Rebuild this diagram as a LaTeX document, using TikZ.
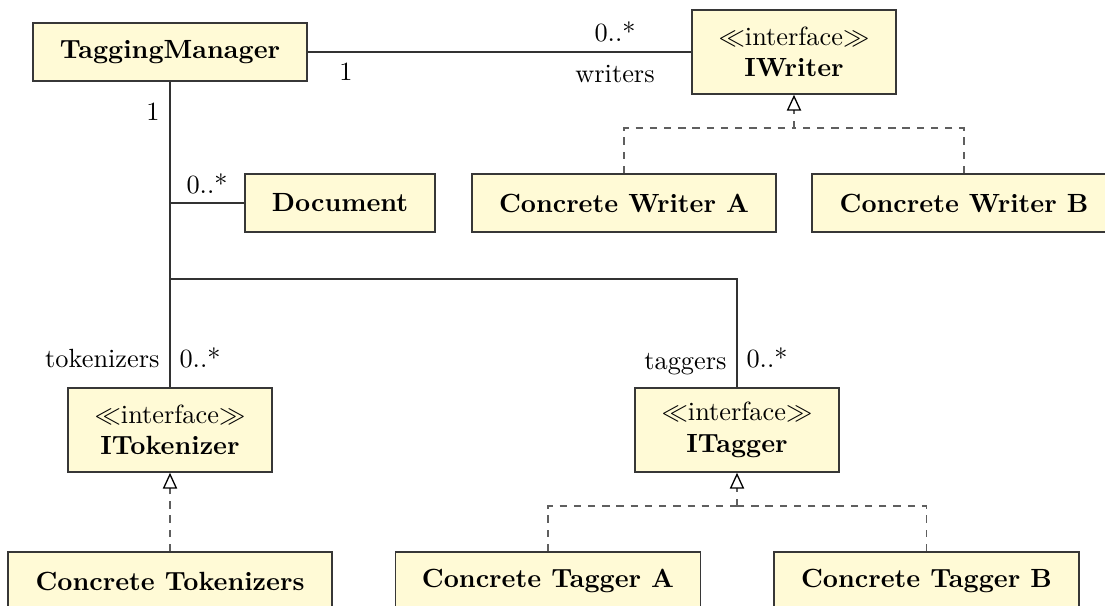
\documentclass[tikz,border=0pt]{standalone}
\usetikzlibrary{arrows.meta}
\definecolor{classfill}{RGB}{255,250,214}
\definecolor{classline}{RGB}{55,55,55}
\definecolor{linkline}{RGB}{50,50,50}
\definecolor{dashline}{RGB}{95,95,95}
\newcommand\pxu{0.38pt}
\begin{document}
\begin{tikzpicture}[x=\pxu, y=-\pxu,
  cls/.style={draw=classline, fill=classfill, line width=0.6pt, inner sep=0pt, align=center},
  box/.style={cls, font=\bfseries, minimum width=#1*\pxu, minimum height=58*\pxu},
  iface/.style={cls, minimum width=#1*\pxu, minimum height=84*\pxu},
  assoc/.style={draw=linkline, line width=0.55pt},
  realize/.style={draw=dashline, line width=0.55pt, dash pattern=on 2.8pt off 2.6pt},
  hollow/.style={-{Triangle[open, length=6pt, width=5.4pt, color=black, fill=white, line width=0.5pt]}},
  lbl/.style={inner sep=0pt}]
\useasboundingbox (0,0) rectangle (1105,606);
\clip (0,0) rectangle (1105,606);

% classes
\node[box=274] (tm) at (170,52) {TaggingManager};
\node[iface=204] (iw) at (794,52) {$\ll$interface$\gg$\\\textbf{IWriter}};
\node[box=190] (doc) at (340,203) {Document};
\node[box=304] (cwa) at (624,203) {Concrete Writer A};
\node[box=304] (cwb) at (964,203) {Concrete Writer B};
\node[iface=204] (itok) at (170,430) {$\ll$interface$\gg$\\\textbf{ITokenizer}};
\node[iface=204] (itag) at (737,430) {$\ll$interface$\gg$\\\textbf{ITagger}};
\node[box=324] (ctok) at (170,581) {Concrete Tokenizers};
\node[box=305] (cta) at (548,581) {Concrete Tagger A};
\node[box=305] (ctb) at (926.5,581) {Concrete Tagger B};

% associations
\draw[assoc] (tm.east) -- (iw.west);
\draw[assoc] (tm.south) -- (itok.north);
\coordinate (docj) at (tm.south |- doc.west);
\draw[assoc] (docj) -- (doc.west);
\coordinate (tagj) at (170,279);
\draw[assoc] (tagj) -| (itag.north);

% realizations
\coordinate (wbus) at (794,128);
\draw[realize] (cwa.north) |- (wbus);
\draw[realize] (cwb.north) |- (wbus);
\draw[realize, hollow] (wbus) -- (iw.south);

\draw[realize, hollow] (ctok.north) -- (itok.south);

\coordinate (tbus) at (737,506);
\draw[realize] (cta.north) |- (tbus);
\draw[realize] (ctb.north) |- (tbus);
\draw[realize, hollow] (tbus) -- (itag.south);

% multiplicities and role names
\node[lbl] (m1) at (346,72) {1};
\node[lbl] (m2) at (615,32) {0..*};
\node[lbl] (m3) at (615,74) {writers};
\node[lbl] (m4) at (153,112) {1};
\node[lbl] (m5) at (207,184) {0..*};
\node[lbl, anchor=east] (m6) at (160,359) {tokenizers};
\node[lbl] (m7) at (200,358) {0..*};
\node[lbl, anchor=east] (m8) at (727,364) {taggers};
\node[lbl] (m9) at (767,358) {0..*};
\end{tikzpicture}
\end{document}
